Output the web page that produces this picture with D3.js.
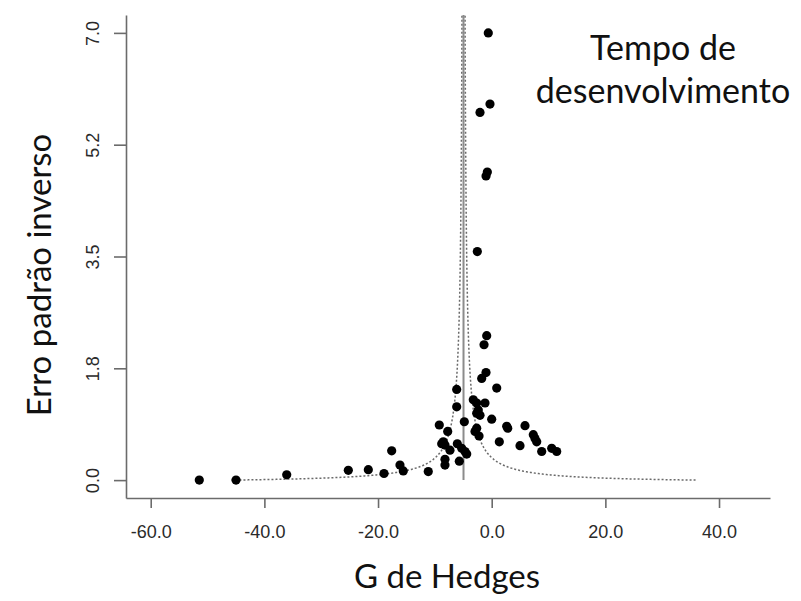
<!DOCTYPE html>
<html>
<head>
<meta charset="utf-8">
<script src="https://cdn.jsdelivr.net/npm/d3@7"></script>
<style>
  body { margin: 0; background: #fff; }
  svg { display: block; }
</style>
</head>
<body>
<svg id="chart" width="801" height="601"></svg>
<script>
// Funnel plot: Hedges' g against inverse standard error (precision)
const hedgesG = [
  -0.60, -0.30, -2.06, -0.77, -1.00, -2.53,
  -0.88, -1.35, -1.00, -1.76, 0.88, -6.16, -3.24, -6.16, -2.64, -1.18,
  -2.36, -2.06, -2.64, 0.00, -4.82, -9.22, 2.64, 2.82, 5.86, -7.74,
  -2.64, -2.94, -2.23, 7.32, 7.62, 7.92, 1.34, -8.52, -8.22, -8.80,
  -6.05, -5.28, -4.70, -4.40, 4.98, -17.60, -7.34, 10.56, 11.44, 8.80,
  -5.70, -8.22, -8.22, -16.14, -15.56, -11.16, -18.95,
  -51.45, -44.99, -36.07, -25.23, -21.71
];
const inverseSE = [
  6.96, 5.86, 5.73, 4.81, 4.75, 3.58,
  2.28, 2.14, 1.71, 1.62, 1.47, 1.45, 1.29, 1.18, 1.24, 1.24,
  1.13, 1.05, 1.08, 0.99, 0.95, 0.90, 0.88, 0.85, 0.89, 0.80,
  0.85, 0.80, 0.73, 0.75, 0.69, 0.64, 0.64, 0.64, 0.59, 0.61,
  0.61, 0.54, 0.49, 0.45, 0.58, 0.50, 0.51, 0.54, 0.49, 0.49,
  0.34, 0.37, 0.28, 0.28, 0.19, 0.18, 0.15,
  0.049, 0.048, 0.13, 0.20, 0.21
];
const pooledEstimate = -4.96;
const criticalZ = 1.96;

const xTicks = [-60, -40, -20, 0, 20, 40];
const yTickLabels = ["0.0", "1.8", "3.5", "5.2", "7.0"];
const xTitle = "G de Hedges";
const yTitle = "Erro padrão inverso";
const panelTitle = ["Tempo de", "desenvolvimento"];

const svg = d3.select("#chart");
const plot = { left: 126, right: 770, top: 15, bottom: 498 };

const data = hedgesG.map((g, i) => ({ g, p: inverseSE[i] }));

// x limits with 4% padding on each side
const x = d3.scaleLinear().domain([-64.35, 48.97]).range([plot.left, plot.right]);

const yMin = d3.min(inverseSE), yMax = d3.max(inverseSE);
const yPad = 0.04 * (yMax - yMin);
const y = d3.scaleLinear().domain([yMin - yPad, yMax + yPad]).range([plot.bottom, plot.top]);
const yTicks = d3.range(yTickLabels.length).map(i => yMin + i * (yMax - yMin) / (yTickLabels.length - 1));

const tickFont = "'Liberation Sans', Arial, sans-serif";
const titleFont = "Lato, 'Open Sans', sans-serif";
const axisColor = "#6b6b6b";

// x axis
const xAxis = svg.append("g")
  .attr("transform", `translate(0,${plot.bottom})`)
  .call(d3.axisBottom(x).tickValues(xTicks).tickFormat(d => d.toFixed(1))
    .tickSizeInner(10).tickSizeOuter(0).tickPadding(17));
// y axis
const yAxis = svg.append("g")
  .attr("transform", `translate(${plot.left},0)`)
  .call(d3.axisLeft(y).tickValues(yTicks).tickFormat((d, i) => yTickLabels[i])
    .tickSizeInner(12).tickSizeOuter(0));

[xAxis, yAxis].forEach(ax => {
  ax.select(".domain").attr("stroke", axisColor).attr("stroke-width", 1.6);
  ax.selectAll(".tick line").attr("stroke", axisColor).attr("stroke-width", 1.6);
  ax.selectAll(".tick text").attr("fill", "#2a2a2a")
    .style("font-family", tickFont).style("font-size", "18px");
});
yAxis.selectAll(".tick text")
  .attr("transform", "rotate(-90)")
  .attr("x", 0).attr("y", -27).attr("dy", 0)
  .attr("text-anchor", "middle");

// funnel limits: pooled estimate ± z / precision
const pTop = y.invert(plot.top);
const pSeq = d3.range(0, 401).map(i => yMin * Math.pow(pTop / yMin, i / 400));
const funnelLine = d3.line().x(d => x(d[0])).y(d => y(d[1]));
[-1, 1].forEach(side => {
  svg.append("path")
    .datum(pSeq.map(p => [pooledEstimate + side * criticalZ / p, p]))
    .attr("d", funnelLine)
    .attr("fill", "none")
    .attr("stroke", "#6a6a6a")
    .attr("stroke-width", 1.5)
    .attr("stroke-dasharray", "2,2");
});

// pooled estimate reference line
svg.append("line")
  .attr("x1", x(pooledEstimate)).attr("x2", x(pooledEstimate))
  .attr("y1", y(yMin)).attr("y2", y(pTop))
  .attr("stroke", "#8c8c8c")
  .attr("stroke-width", 2);

// studies
svg.append("g").selectAll("circle")
  .data(data)
  .join("circle")
  .attr("cx", d => x(d.g))
  .attr("cy", d => y(d.p))
  .attr("r", 4.6)
  .attr("fill", "#000");

// titles
svg.append("text")
  .attr("x", 447).attr("y", 588)
  .attr("text-anchor", "middle")
  .style("font-family", titleFont).style("font-size", "33px")
  .attr("fill", "#111")
  .text(xTitle);

svg.append("text")
  .attr("transform", "translate(51,275) rotate(-90)")
  .attr("text-anchor", "middle")
  .style("font-family", titleFont).style("font-size", "33px")
  .attr("fill", "#111")
  .text(yTitle);

svg.append("text")
  .attr("text-anchor", "middle")
  .style("font-family", titleFont).style("font-size", "34px")
  .attr("fill", "#111")
  .selectAll("tspan")
  .data(panelTitle)
  .join("tspan")
  .attr("x", 663)
  .attr("y", (d, i) => 60 + i * 43)
  .text(d => d);
</script>
</body>
</html>
